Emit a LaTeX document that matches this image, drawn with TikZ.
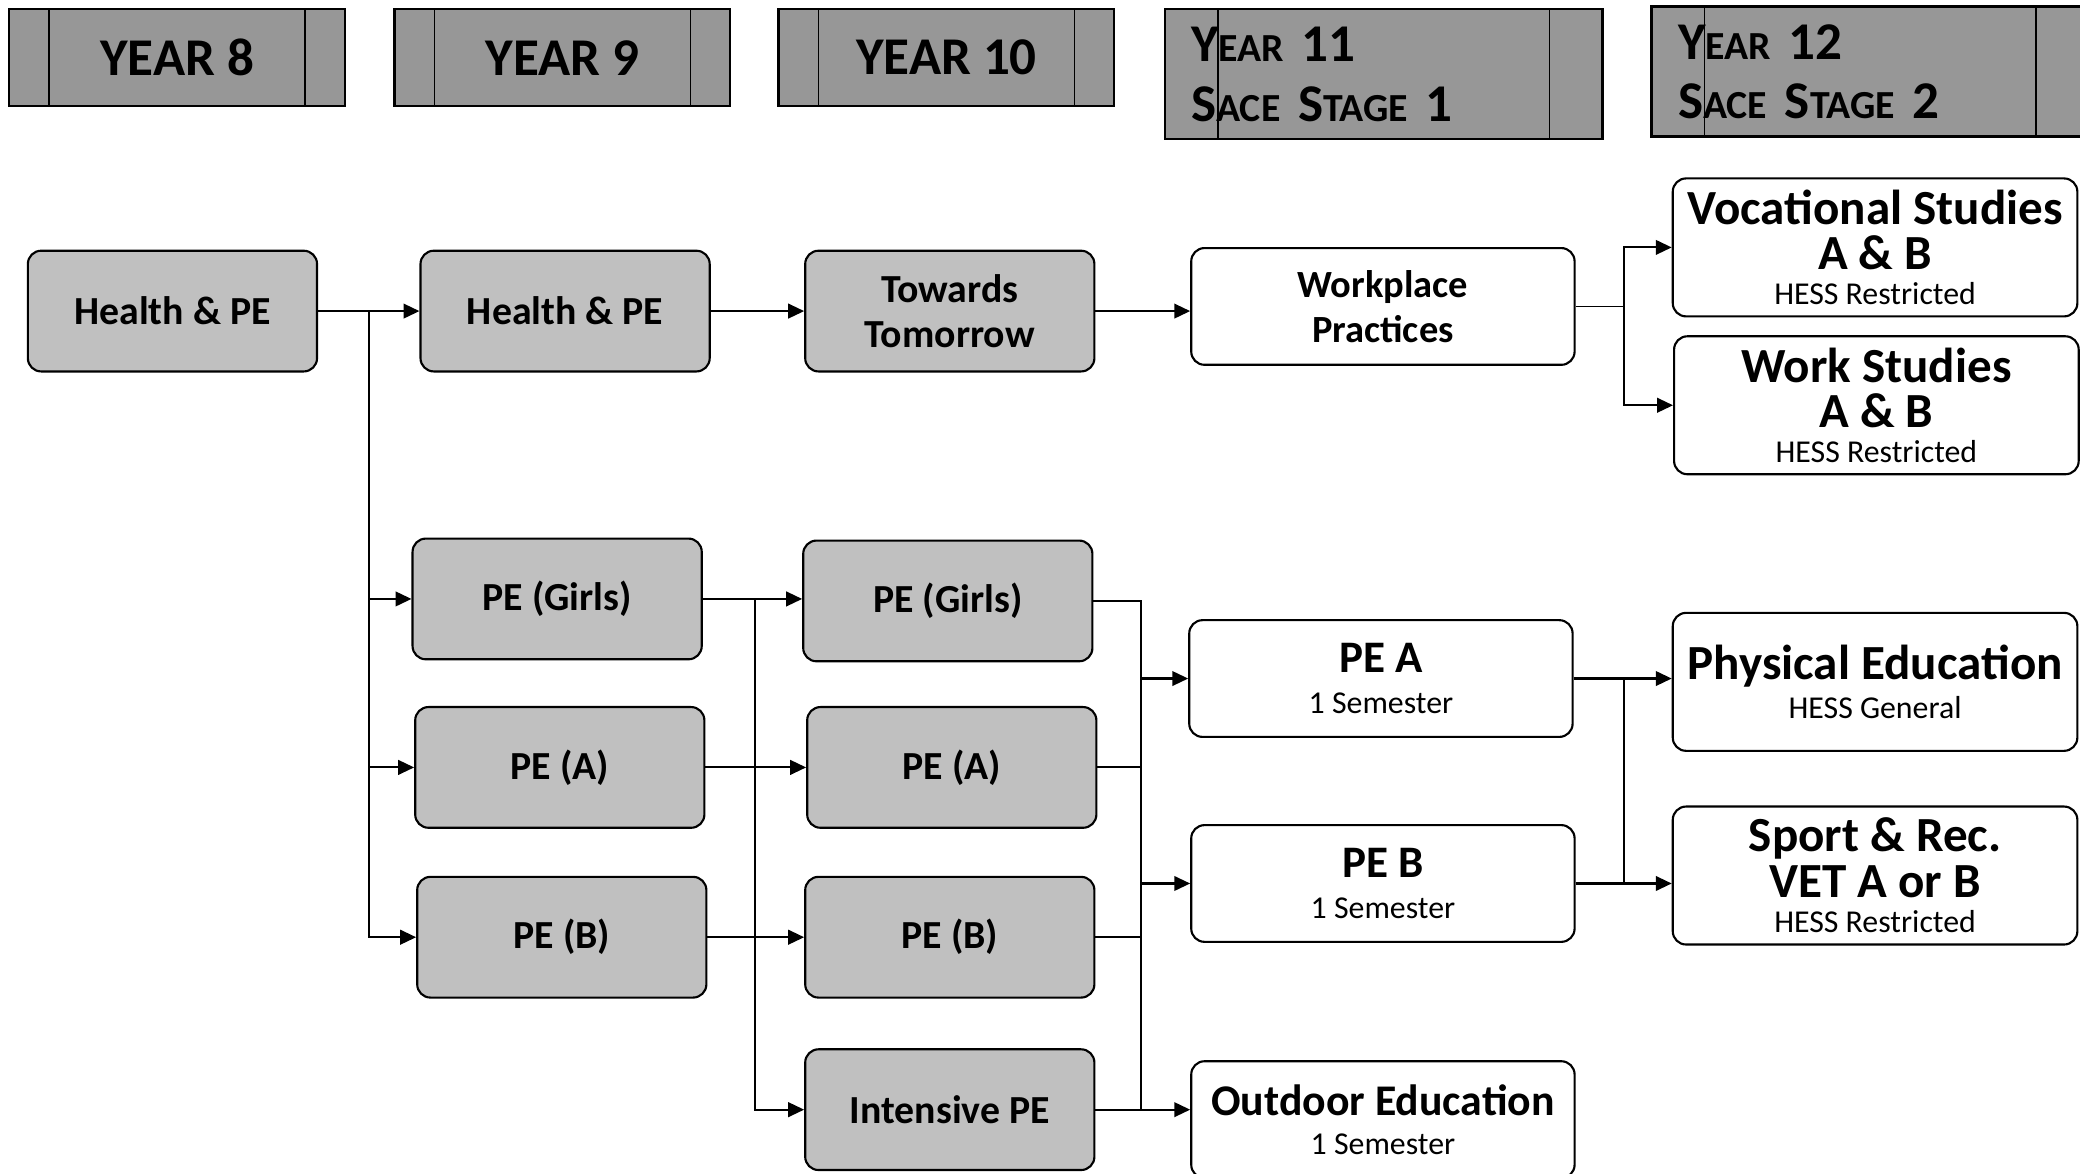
\documentclass[tikz,border=0pt]{standalone}
\usepackage{fontspec}
\setmainfont{Carlito}
\usetikzlibrary{arrows.meta}

\definecolor{headgray}{RGB}{151,151,151}
\definecolor{boxgray}{RGB}{192,192,192}

\newcommand{\yrsc}[1]{{\fontsize{15}{15}\selectfont #1}}
\newcommand{\subline}[1]{{\mdseries\fontsize{12}{12}\selectfont #1}}

\tikzset{
  yearbox/.style={draw, fill=headgray, line width=.9pt,
    minimum width=126.5pt, minimum height=36.5pt,
    font=\bfseries\fontsize{20}{22}\selectfont,
    path picture={\draw[line width=.6pt]
      ([xshift=#1]path picture bounding box.south west) -- ([xshift=#1]path picture bounding box.north west)
      ([xshift=-#1]path picture bounding box.south east) -- ([xshift=-#1]path picture bounding box.north east);}},
  yearbox/.default=15pt,
  sacehead/.style={minimum width=165pt, minimum height=49pt, text width=145pt,
    inner xsep=10pt, align=left, font=\bfseries\fontsize{20}{22.5}\selectfont},
  course/.style={draw, rounded corners=5pt, line width=.8pt, align=center, inner sep=1pt},
  grey/.style={course, fill=boxgray, minimum width=109pt, minimum height=45.5pt,
    font=\bfseries\fontsize{15}{17}\selectfont},
  sace1/.style={course, fill=white, minimum width=144.5pt, minimum height=44pt,
    font=\bfseries\fontsize{17}{15.5}\selectfont},
  sace2/.style={course, fill=white, minimum width=152.5pt, minimum height=52pt,
    font=\bfseries\fontsize{18.5}{17}\selectfont},
  arr/.style={-{Triangle[length=6pt,width=5.5pt]}, line width=.8pt},
  bus/.style={line width=.7pt}
}

\begin{document}
\begin{tikzpicture}[x=0.5pt, y=-0.5pt]
  \useasboundingbox (0,0) rectangle (1568,885);
  \clip (0,0) rectangle (1568,885);

  % year headings
  \node[yearbox] (y8) at (133.5,43.5) {YEAR 8};
  \node[yearbox] (y9) at (424,43.5) {YEAR 9};
  \node[yearbox] (y10) at (713.5,43.5) {YEAR 10};
  \node[yearbox=20pt, sacehead] (y11) at (1043,56) {Y\yrsc{EAR} 11\\S\yrsc{ACE} S\yrsc{TAGE} 1};
  \node[yearbox=20pt, sacehead] (y12) at (1410,54) {Y\yrsc{EAR} 12\\S\yrsc{ACE} S\yrsc{TAGE} 2};

  % year 8 and 9
  \node[grey] (hpe8) at (130,234.5) {Health \& PE};
  \node[grey] (hpe9) at (426,234.5) {Health \& PE};
  \node[grey] (girls9) at (420,451.5) {PE (Girls)};
  \node[grey] (a9) at (422,578.5) {PE (A)};
  \node[grey] (b9) at (423.5,706.5) {PE (B)};

  % year 10
  \node[grey] (tt) at (716,234.5) {Towards\\Tomorrow};
  \node[grey] (girls10) at (714.5,453) {PE (Girls)};
  \node[grey] (a10) at (717.5,578.5) {PE (A)};
  \node[grey] (b10) at (716,706.5) {PE (B)};
  \node[grey] (int10) at (716,836.5) {Intensive PE};

  % year 11
  \node[sace1, font=\bfseries\fontsize{14.5}{17}\selectfont] (wp) at (1042.5,231) {Workplace\\Practices};
  \node[sace1] (pea) at (1041,511.5) {PE A\\\subline{1 Semester}};
  \node[sace1] (peb) at (1042.5,666) {PE B\\\subline{1 Semester}};
  \node[sace1, font=\bfseries\fontsize{16.5}{14.5}\selectfont] (outdoor) at (1042.5,844) {Outdoor Education\\\subline{1 Semester}};

  % year 12
  \node[sace2] (voc) at (1413.5,186.5) {Vocational Studies\\A \& B\\[-4pt]\subline{HESS Restricted}};
  \node[sace2] (work) at (1414.5,305.5) {Work Studies\\A \& B\\[-4pt]\subline{HESS Restricted}};
  \node[sace2] (phys) at (1413.5,514) {Physical Education\\[-2pt]\subline{HESS General}};
  \node[sace2] (sport) at (1413.5,660) {Sport \& Rec.\\VET A or B\\[-3.5pt]\subline{HESS Restricted}};

  % bus lines
  \coordinate (bus8) at (278,0);
  \coordinate (bus9) at (569,0);
  \coordinate (bus10) at (860,0);
  \coordinate (bus11) at (1224.5,0);

  \draw[arr] (hpe8.east) -- (hpe9.west);
  \draw[arr] (hpe8.east -| bus8) |- (b9.west);
  \draw[arr] (bus8 |- girls9.west) -- (girls9.west);
  \draw[arr] (bus8 |- a9.west) -- (a9.west);
  \draw[arr] (hpe9.east) -- (tt.west);
  \draw[arr] (tt.east) -- (tt.east -| wp.west);
  \draw[bus] (wp.east) -- (wp.east -| bus11);
  \draw[arr] (wp.east -| bus11) |- (voc.west);
  \draw[arr] (wp.east -| bus11) |- (work.west);

  \draw[arr] (girls9.east) -- (girls9.east -| girls10.west);
  \draw[arr] (girls9.east -| bus9) |- (int10.west);
  \draw[arr] (a9.east) -- (a10.west);
  \draw[arr] (b9.east) -- (b10.west);

  \draw[bus] (girls10.east) -- (girls10.east -| bus10) -- (bus10 |- int10.east);
  \draw[bus] (a10.east) -- (a10.east -| bus10);
  \draw[bus] (b10.east) -- (b10.east -| bus10);
  \draw[arr] (int10.east) -- (int10.east -| outdoor.west);
  \draw[arr] (bus10 |- pea.west) -- (pea.west);
  \draw[arr] (bus10 |- peb.west) -- (peb.west);

  \draw[arr] (pea.east) -- (pea.east -| phys.west);
  \draw[arr] (peb.east) -- (peb.east -| sport.west);
  \draw[bus] (pea.east -| bus11) -- (peb.east -| bus11);
\end{tikzpicture}
\end{document}
